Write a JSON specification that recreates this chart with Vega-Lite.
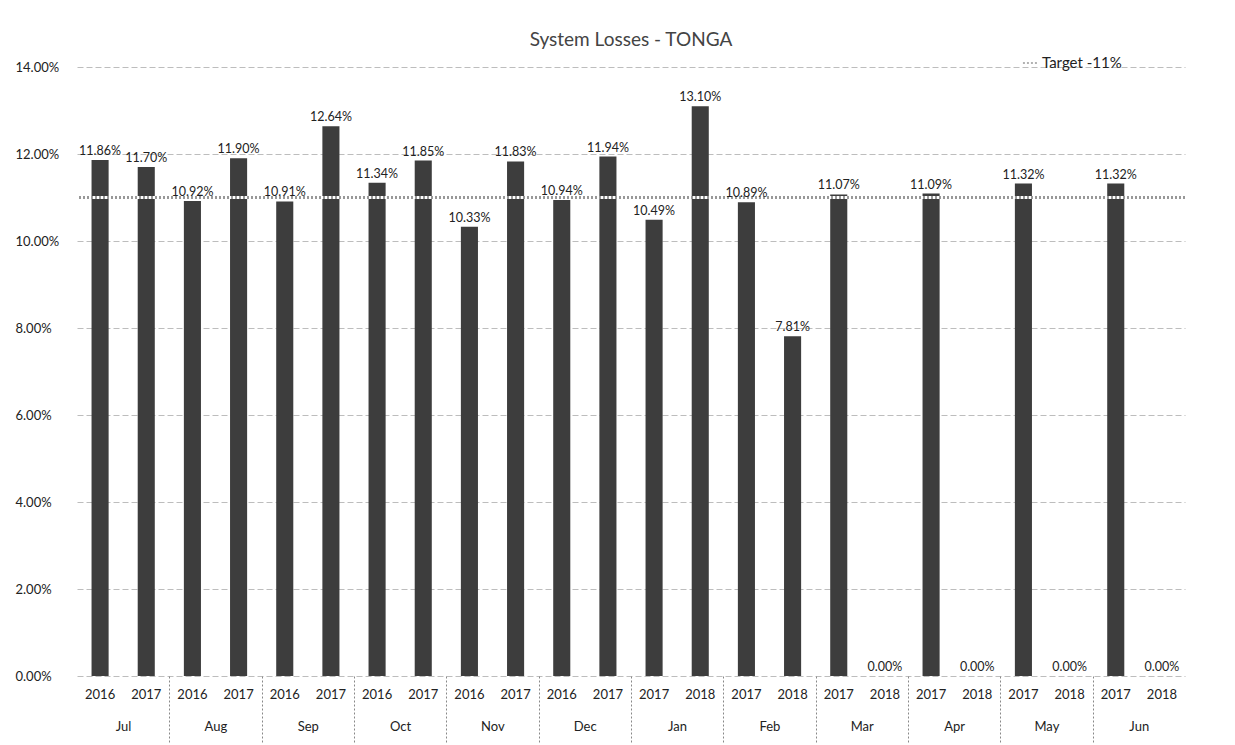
{
  "$schema": "https://vega.github.io/schema/vega-lite/v6.json",
  "width": 1108,
  "height": 609,
  "padding": {"left": 15, "top": 31, "right": 40, "bottom": 0},
  "background": "white",
  "title": {"text": "System Losses - TONGA", "fontSize": 19, "font": "Lato", "fontWeight": "normal", "color": "#444444", "offset": 5},
  "data": {"values": [
    {"key": "Jul 2016", "month": "Jul", "year": "2016", "loss": 0.1186},
    {"key": "Jul 2017", "month": "Jul", "year": "2017", "loss": 0.1170},
    {"key": "Aug 2016", "month": "Aug", "year": "2016", "loss": 0.1092},
    {"key": "Aug 2017", "month": "Aug", "year": "2017", "loss": 0.1190},
    {"key": "Sep 2016", "month": "Sep", "year": "2016", "loss": 0.1091},
    {"key": "Sep 2017", "month": "Sep", "year": "2017", "loss": 0.1264},
    {"key": "Oct 2016", "month": "Oct", "year": "2016", "loss": 0.1134},
    {"key": "Oct 2017", "month": "Oct", "year": "2017", "loss": 0.1185},
    {"key": "Nov 2016", "month": "Nov", "year": "2016", "loss": 0.1033},
    {"key": "Nov 2017", "month": "Nov", "year": "2017", "loss": 0.1183},
    {"key": "Dec 2016", "month": "Dec", "year": "2016", "loss": 0.1094},
    {"key": "Dec 2017", "month": "Dec", "year": "2017", "loss": 0.1194},
    {"key": "Jan 2017", "month": "Jan", "year": "2017", "loss": 0.1049},
    {"key": "Jan 2018", "month": "Jan", "year": "2018", "loss": 0.1310},
    {"key": "Feb 2017", "month": "Feb", "year": "2017", "loss": 0.1089},
    {"key": "Feb 2018", "month": "Feb", "year": "2018", "loss": 0.0781},
    {"key": "Mar 2017", "month": "Mar", "year": "2017", "loss": 0.1107},
    {"key": "Mar 2018", "month": "Mar", "year": "2018", "loss": 0.0},
    {"key": "Apr 2017", "month": "Apr", "year": "2017", "loss": 0.1109},
    {"key": "Apr 2018", "month": "Apr", "year": "2018", "loss": 0.0},
    {"key": "May 2017", "month": "May", "year": "2017", "loss": 0.1132},
    {"key": "May 2018", "month": "May", "year": "2018", "loss": 0.0},
    {"key": "Jun 2017", "month": "Jun", "year": "2017", "loss": 0.1132},
    {"key": "Jun 2018", "month": "Jun", "year": "2018", "loss": 0.0}
  ]},
  "encoding": {
    "y": {"field": "loss", "type": "quantitative",
      "scale": {"domain": [0, 0.14], "nice": false},
      "axis": {"format": ".2%", "values": [0, 0.02, 0.04, 0.06, 0.08, 0.10, 0.12, 0.14], "title": null, "domain": false, "ticks": false,
        "labelAlign": "left", "labelPadding": 62, "labelFont": "Lato", "labelFontSize": 13, "labelColor": "#222222",
        "gridColor": "#bdbdbd", "gridDash": [6, 3], "gridWidth": 1}}
  },
  "layer": [
    {
      "mark": {"type": "bar", "color": "#3d3d3d", "width": {"band": 0.37}},
      "encoding": {
        "x": {"field": "key", "type": "nominal", "sort": null,
          "scale": {"paddingInner": 0, "paddingOuter": 0},
          "axis": {"orient": "bottom", "title": null, "domain": false, "ticks": false, "grid": false, "labelAngle": 0,
            "labelExpr": "split(datum.value, ' ')[1]", "labelPadding": 12,
            "labelFont": "Lato", "labelFontSize": 13, "labelColor": "#222222"}}
      }
    },
    {
      "mark": {"type": "rule", "color": "white", "strokeWidth": 3},
      "encoding": {"y": {"datum": 0.11}}
    },
    {
      "mark": {"type": "rule", "strokeWidth": 1.5, "strokeDash": [2, 2]},
      "encoding": {
        "y": {"datum": 0.11},
        "stroke": {"datum": "Target -11%", "type": "nominal",
          "scale": {"range": ["#999999"]},
          "legend": {"title": null, "orient": "none", "legendX": 945, "legendY": -12, "symbolType": "stroke", "symbolDash": [2, 2], "symbolStrokeWidth": 1.5, "symbolSize": 200,
            "labelFont": "Lato", "labelFontSize": 15, "labelColor": "#222222"}}
      }
    },
    {
      "mark": {"type": "text", "dy": -9, "fontSize": 12.5, "font": "Lato", "color": "#222222"},
      "encoding": {
        "x": {"field": "key", "type": "nominal", "sort": null,
          "axis": {"orient": "bottom", "title": null, "domain": false, "grid": false, "labelAngle": 0, "tickBand": "extent",
            "tickSize": 66, "tickWidth": 1, "tickDash": [2, 2],
            "tickColor": {"condition": {"test": "indexof(['Jul 2017','Aug 2017','Sep 2017','Oct 2017','Nov 2017','Dec 2017','Jan 2018','Feb 2018','Mar 2018','Apr 2018','May 2018'], datum.value) >= 0", "value": "#888888"}, "value": "transparent"},
            "labelExpr": "indexof(['Jul 2016','Aug 2016','Sep 2016','Oct 2016','Nov 2016','Dec 2016','Jan 2017','Feb 2017','Mar 2017','Apr 2017','May 2017','Jun 2017'], datum.value) >= 0 ? split(datum.value, ' ')[0] : ''",
            "labelOffset": 23, "labelPadding": -22, "labelBaseline": "top",
            "labelFont": "Lato", "labelFontSize": 13, "labelColor": "#222222"}},
        "text": {"field": "loss", "type": "quantitative", "format": ".2%"}
      }
    }
  ],
  "resolve": {"axis": {"x": "independent"}},
  "config": {"view": {"stroke": null}}
}
